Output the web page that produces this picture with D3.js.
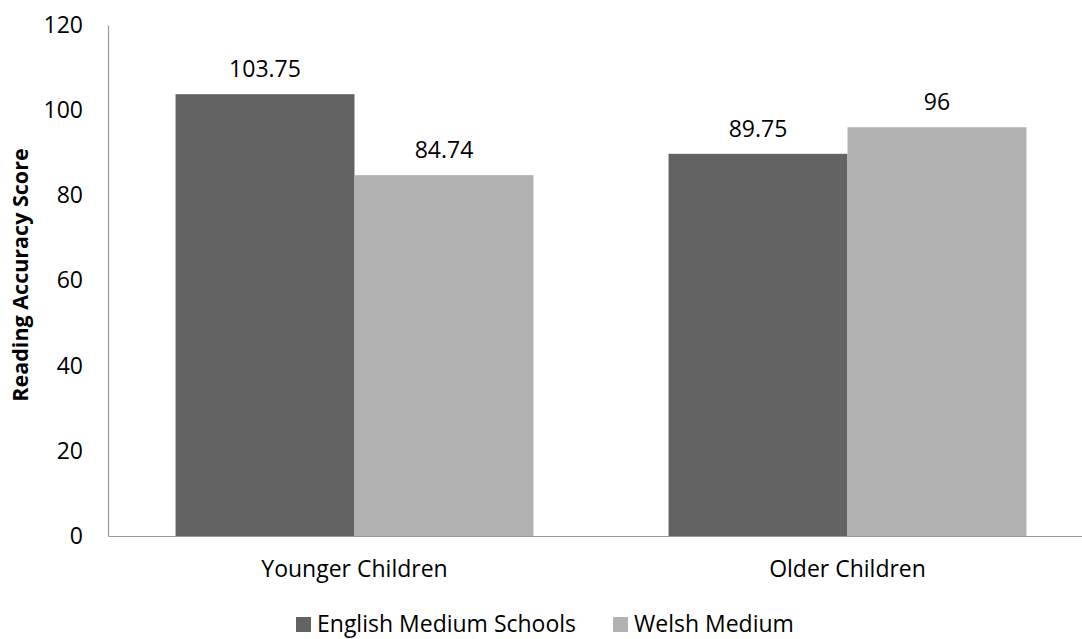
<!DOCTYPE html>
<html>
<head>
<meta charset="utf-8">
<script src="https://cdn.jsdelivr.net/npm/d3@7"></script>
<style>
  html, body { margin: 0; padding: 0; background: #fff; }
  svg { display: block; font-family: "Open Sans", sans-serif; }
</style>
</head>
<body>
<svg id="chart" width="1082" height="639"></svg>
<script>
// Reading accuracy by age group and school medium
const categories = ["Younger Children", "Older Children"];
const seriesNames = ["English Medium Schools", "Welsh Medium"];
const englishMedium = [103.75, 89.75];
const welshMedium = [84.74, 96];
const yTicks = [0, 20, 40, 60, 80, 100, 120];
const seriesColors = ["#636363", "#b2b2b2"];

const FONT = "'Open Sans', sans-serif";
const FS = 23;
const svg = d3.select("#chart");
const plot = { left: 108, right: 1094, top: 25, bottom: 536 };

const x0 = d3.scaleBand()
  .domain(categories)
  .range([plot.left, plot.right])
  .paddingInner(0.274)
  .paddingOuter(0.137);

const x1 = d3.scaleBand()
  .domain(seriesNames)
  .range([0, x0.bandwidth()]);

const y = d3.scaleLinear().domain([0, 120]).range([plot.bottom, plot.top]);

const rows = categories.map((c, i) => ({
  category: c,
  values: [
    { series: seriesNames[0], value: englishMedium[i], color: seriesColors[0] },
    { series: seriesNames[1], value: welshMedium[i], color: seriesColors[1] }
  ]
}));

// Bars
const groups = svg.selectAll("g.group").data(rows).join("g")
  .attr("class", "group")
  .attr("transform", d => `translate(${x0(d.category)},0)`);

groups.selectAll("rect").data(d => d.values).join("rect")
  .attr("x", d => x1(d.series))
  .attr("y", d => y(d.value))
  .attr("width", x1.bandwidth())
  .attr("height", d => y(0) - y(d.value))
  .attr("fill", d => d.color);

// Value labels
groups.selectAll("text.val").data(d => d.values).join("text")
  .attr("class", "val")
  .attr("x", d => x1(d.series) + x1.bandwidth() / 2)
  .attr("y", d => y(d.value) - 17)
  .attr("text-anchor", "middle")
  .attr("font-size", FS)
  .attr("fill", "#000")
  .text(d => d3.format("")(d.value));

// Y axis
const yAxis = d3.axisLeft(y).tickValues(yTicks).tickSize(0).tickPadding(25);
const gy = svg.append("g").attr("transform", `translate(${plot.left},0)`).call(yAxis);
gy.select(".domain").attr("stroke", "#999").attr("stroke-width", 1.2);
gy.selectAll("text").attr("font-size", FS).attr("fill", "#000").attr("font-family", FONT);

// X axis
const xAxis = d3.axisBottom(x0).tickSize(0).tickPadding(25);
const gx = svg.append("g").attr("transform", `translate(0,${plot.bottom})`).call(xAxis);
gx.select(".domain").attr("stroke", "#999").attr("stroke-width", 1.2);
gx.selectAll("text").attr("font-size", FS).attr("fill", "#000").attr("font-family", FONT);

// Y axis title
svg.append("text")
  .attr("transform", `translate(28,275) rotate(-90)`)
  .attr("text-anchor", "middle")
  .attr("font-size", 21.5)
  .attr("font-weight", "bold")
  .attr("fill", "#000")
  .text("Reading Accuracy Score");

// Legend
const legendItems = [
  { name: seriesNames[0], color: seriesColors[0], x: 296 },
  { name: seriesNames[1], color: seriesColors[1], x: 613 }
];
const lg = svg.selectAll("g.legend").data(legendItems).join("g")
  .attr("class", "legend")
  .attr("transform", d => `translate(${d.x},632)`);
lg.append("rect").attr("x", 0).attr("y", -15).attr("width", 15).attr("height", 15)
  .attr("fill", d => d.color);
lg.append("text").attr("x", 21).attr("y", 0)
  .attr("font-size", FS).attr("fill", "#000").text(d => d.name);
</script>
</body>
</html>
